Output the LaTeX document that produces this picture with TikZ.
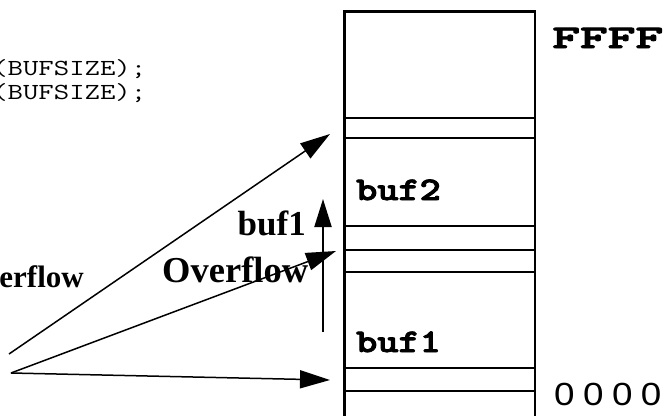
\documentclass[tikz,border=0pt]{standalone}
\usepackage{fontspec}
\setmainfont{Liberation Serif}
\newfontfamily\addrfont[LetterSpace=23]{Liberation Sans}
\newfontfamily\bmono[FakeBold=2.5]{lmmonolt10-bold.otf}
\usetikzlibrary{arrows.meta}
\begin{document}
\begin{tikzpicture}[x=1pt,y=-1pt,
  cell/.style={line width=2.4pt, line join=miter},
  ptr/.style={line width=1.5pt, -{Triangle[length=30pt,width=18pt]}},
  growarrow/.style={line width=2.2pt, -{Triangle[length=28pt,width=17pt]}},
  lbl/.style={inner sep=0pt, font=\bfseries\fontsize{35pt}{40pt}\selectfont},
  cellname/.style={inner sep=0pt, xscale=1.22, font=\bmono\fontsize{33pt}{36pt}\selectfont},
  code/.style={inner sep=0pt, xscale=1.3, font=\ttfamily\fontsize{23pt}{25pt}\selectfont}]
\useasboundingbox (0,0) rectangle (671,415);
% memory stack
\draw[cell] (344.5,425) -- (344.5,11.5) -- (535,11.5) -- (535,425);
\foreach \yy in {118,138,226,250,272,368,391}
  \draw[cell] (344.5,\yy) -- (535,\yy);
% texts
\node[code, anchor=base west] (code1) at (-8,75) {(BUFSIZE);};
\node[code, anchor=base west] (code2) at (-8,99) {(BUFSIZE);};
\node[inner sep=0pt, anchor=base east, font=\bfseries\fontsize{31pt}{34pt}\selectfont] (ovleft) at (84,287) {Overflow};
\node[lbl, anchor=base east] (buflbl) at (306,235) {buf1};
\node[inner sep=0pt, anchor=base west, font=\bfseries\fontsize{36.5pt}{40pt}\selectfont] (ovlbl) at (162,282) {Overflow};
\node[cellname, anchor=base west] (buftwo) at (356,200) {buf2};
\node[cellname, anchor=base west] (bufone) at (356,352) {buf1};
\node[inner sep=0pt, anchor=base west, xscale=1.6, font=\bmono\fontsize{33pt}{36pt}\selectfont] (hi) at (552,48) {FFFF};
\node[inner sep=0pt, anchor=base west, xscale=1.15, font=\addrfont\fontsize{32pt}{34pt}\selectfont] (lo) at (554,405) {0000};
% arrow endpoints
\coordinate (srcA) at (9,354);
\coordinate (srcB) at (11,373);
\coordinate (tipA) at (330,134);
\coordinate (tipB) at (336,251);
\coordinate (tipC) at (330,380);
\coordinate (growlo) at (323,332);
\coordinate (growhi) at (323,199);
\draw[ptr] (srcA) -- (tipA);
\draw[ptr] (srcB) -- (tipB);
\draw[ptr] (srcB) -- (tipC);
\draw[growarrow] (growlo) -- (growhi);
\end{tikzpicture}
\end{document}
